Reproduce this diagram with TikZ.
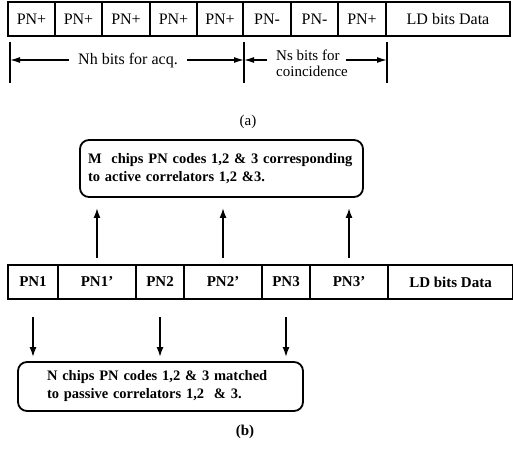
\documentclass[tikz,border=0pt]{standalone}
\usepackage{fontspec}
\setmainfont{Liberation Serif}
\usetikzlibrary{arrows.meta}

\begin{document}
\begin{tikzpicture}[x=1pt, y=-1pt, line width=1.8pt,
        cell/.style={draw, minimum height=34pt, inner sep=0pt, font=\fontsize{16}{18}\selectfont},
        bcell/.style={cell, font=\fontsize{15}{17}\selectfont\bfseries},
        codebox/.style={draw, rounded corners=9pt, align=left, inner ysep=0pt, font=\fontsize{14.5}{18}\selectfont\bfseries},
        tip/.style={-{Latex[length=10pt,width=7pt]}, line width=1.8pt},
        dimarrow/.style={-{Latex[length=10pt,width=6pt]}, line width=1.3pt}]
        \useasboundingbox (0,0) rectangle (513,450);

        % Frame (a)
        \node[cell, minimum width=47pt] (a1) at (31.5,19) {PN+};
        \node[cell, minimum width=47pt] (a2) at (78.5,19) {PN+};
        \node[cell, minimum width=48pt] (a3) at (126,19) {PN+};
        \node[cell, minimum width=47pt] (a4) at (173.5,19) {PN+};
        \node[cell, minimum width=46pt] (a5) at (220,19) {PN+};
        \node[cell, minimum width=48pt] (a6) at (267,19) {PN-};
        \node[cell, minimum width=47pt] (a7) at (314.5,19) {PN-};
        \node[cell, minimum width=48pt] (a8) at (362,19) {PN+};
        \node[cell, minimum width=124pt] (a9) at (448,19) {LD bits Data};

        % Dimension ticks
        \coordinate (t1) at (10,42);  \coordinate (t1b) at (10,83);
        \coordinate (t2) at (244,42); \coordinate (t2b) at (244,83);
        \coordinate (t3) at (387,42); \coordinate (t3b) at (387,83);
        \draw[line width=1.3pt] (t1) -- (t1b);
        \draw[line width=1.3pt] (t2) -- (t2b);
        \draw[line width=1.3pt] (t3) -- (t3b);

        % Dimension texts and arrows
        \node[font=\fontsize{16}{18}\selectfont, inner sep=0pt] (nh) at (128,61) {Nh bits for acq.};
        \draw[dimarrow] ([xshift=-8pt, yshift=1pt]nh.west) -- ([yshift=1pt]nh.west -| t1);
        \draw[dimarrow] ([xshift=8pt, yshift=1pt]nh.east) -- ([yshift=1pt]nh.east -| t2);
        \node[font=\fontsize{15}{16}\selectfont, align=left, inner sep=0pt] (ns) at (312,63) {Ns bits for\\coincidence};
        \draw[dimarrow] ([xshift=-8pt, yshift=3pt]ns.west) -- ([yshift=3pt]ns.west -| t2);
        \draw[dimarrow] ([xshift=-3pt, yshift=3pt]ns.east) -- ([yshift=3pt]ns.east -| t3);

        \node[font=\fontsize{15}{17}\selectfont] (capa) at (248,122) {(a)};

        % Active correlators box
        \node[codebox, minimum height=57pt, text width=267pt, inner xsep=8pt] (mbox) at (221.5,168.5)
            {M\ \ chips PN codes 1,2 \& 3 corresponding\\to active correlators 1,2 \&3.};

        % Frame (b)
        \node[bcell, minimum width=50pt] (b1) at (33,282) {PN1};
        \node[bcell, minimum width=78pt] (b2) at (97,282) {PN1'};
        \node[bcell, minimum width=48pt] (b3) at (160,282) {PN2};
        \node[bcell, minimum width=78pt] (b4) at (223,282) {PN2'};
        \node[bcell, minimum width=48pt] (b5) at (286,282) {PN3};
        \node[bcell, minimum width=78pt] (b6) at (349,282) {PN3'};
        \node[bcell, minimum width=125pt] (b7) at (450.5,282) {LD bits Data};

        % Arrows up to active correlators
        \draw[tip, shorten <=6pt, shorten >=10pt] (b2.north) -- (b2.north |- mbox.south);
        \draw[tip, shorten <=6pt, shorten >=10pt] (b4.north) -- (b4.north |- mbox.south);
        \draw[tip, shorten <=6pt, shorten >=10pt] (b6.north) -- (b6.north |- mbox.south);

        % Passive correlators box
        \node[codebox, minimum height=49pt, text width=227pt, inner xsep=29pt] (nbox) at (160.5,386.5)
            {N chips PN codes 1,2 \& 3 matched\\to passive correlators 1,2\ \ \& 3.};

        % Arrows down to passive correlators
        \draw[tip, shorten <=17pt, shorten >=4pt] (b1.south) -- (b1.south |- nbox.north);
        \draw[tip, shorten <=17pt, shorten >=4pt] (b3.south) -- (b3.south |- nbox.north);
        \draw[tip, shorten <=17pt, shorten >=4pt] (b5.south) -- (b5.south |- nbox.north);

        \node[font=\fontsize{15}{17}\selectfont\bfseries] (capb) at (245,432) {(b)};
    \end{tikzpicture}
\end{document}
